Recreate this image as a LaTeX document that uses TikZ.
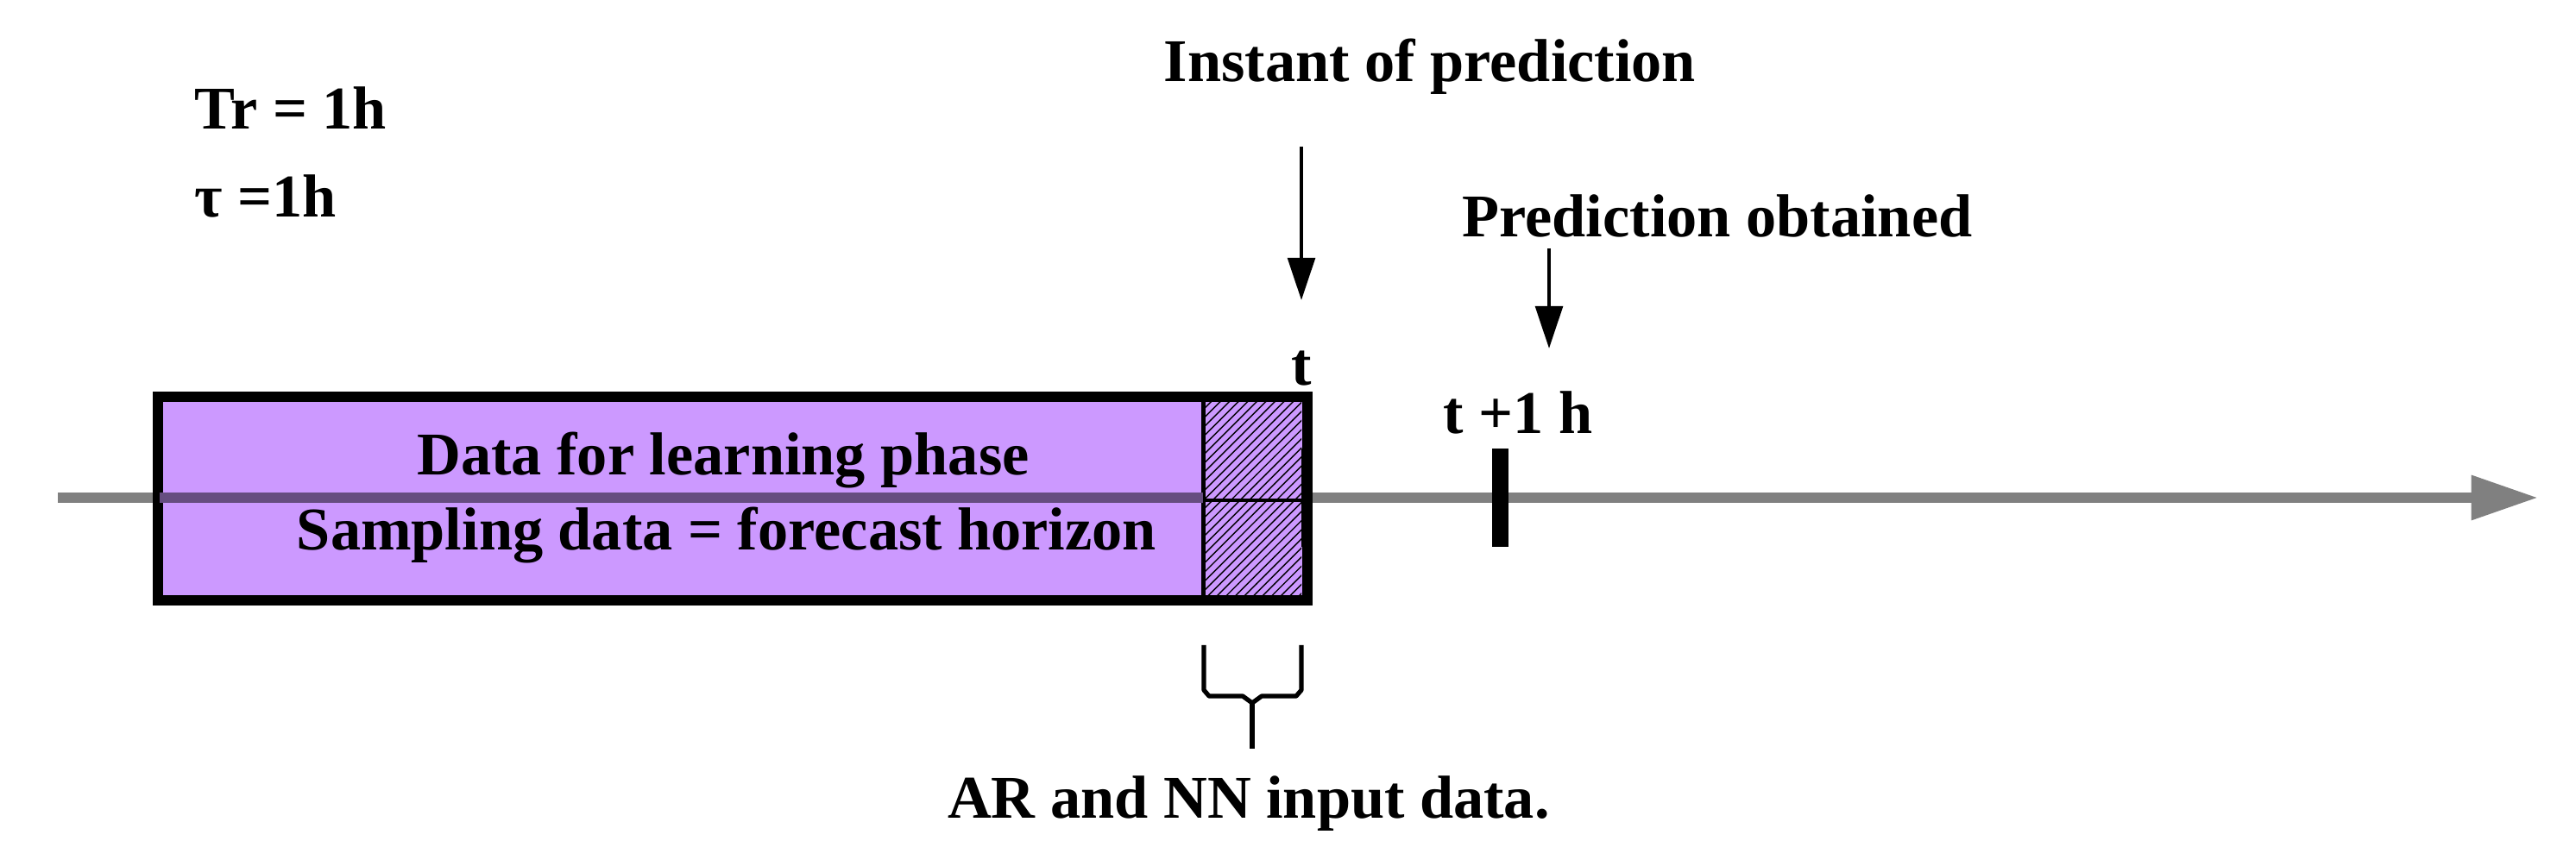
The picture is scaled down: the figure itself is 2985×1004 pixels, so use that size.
\documentclass[tikz,border=0pt]{standalone}
\usepackage{fontspec}
\setmainfont{Liberation Serif}
\usetikzlibrary{patterns,arrows.meta}
\definecolor{lav}{HTML}{CC99FF}
\definecolor{axisg}{HTML}{808080}
\definecolor{axisp}{HTML}{664D80}
\begin{document}
\begin{tikzpicture}[x=0.01cm,y=-0.01cm,
  lbl/.style={font=\bfseries\fontsize{20}{24}\selectfont, inner sep=0pt},
  arr/.style={line width=1.2pt,-{Triangle[length=14pt,width=9pt]}}]
\useasboundingbox (0,0) rectangle (2985,1004);
% axis
\coordinate (a0) at (67,577);
\coordinate (a1) at (2941,577);
\draw[axisg,line width=0.12cm,-{Triangle[length=22pt,width=14pt]}] (a0) -- (a1);
% box
\node[draw=black,line width=0.08cm,fill=lav,minimum width=13.27cm,minimum height=2.32cm,anchor=north west,inner sep=0pt] (box) at (181,458) {};
\path[pattern=north east lines] (1394,458) rectangle (1508,690);
\draw[line width=0.05cm] (1394,458) -- (1394,690);
\draw[axisp,line width=0.12cm] (box.west |- 0,577) -- (1394,577);
\draw[line width=0.04cm] (1394,580) -- (1508,580);
\draw[line width=0.08cm] (box.south west) rectangle (box.north east);
% ticks
\node[fill=black,minimum width=0.1cm,minimum height=1.13cm,inner sep=0pt] (tk0) at (1513,577) {};
\node[fill=black,minimum width=0.19cm,minimum height=1.13cm,inner sep=0pt] (tk1) at (1738,577) {};
% texts
\node[lbl] (d1) at (838,534) {Data for learning phase};
\node[lbl] (d2) at (842,621) {Sampling data = forecast horizon};
\node[lbl,anchor=west] (tr) at (225,125) {Tr = 1h};
\node[lbl,anchor=west] (tau) at (225,227) {τ =1h};
\node[lbl] (ip) at (1657,77) {Instant of prediction};
\node[lbl] (po) at (1990,250) {Prediction obtained};
\node[lbl] (t) at (1508,427) {t};
\node[lbl] (t1) at (1759,478) {t +1 h};
\node[lbl] (ar) at (1447,932) {AR and NN input data.};
% arrows
\coordinate (s1) at (1508,170);
\coordinate (e1) at (1508,348);
\draw[arr] (s1) -- (e1);
\coordinate (s2) at (1795,288);
\coordinate (e2) at (1795,404);
\draw[arr] (s2) -- (e2);
% brace
\coordinate (bl) at (1395,748);
\coordinate (br) at (1508,748);
\coordinate (bt) at (1451,868);
\draw[line width=1.5pt,line join=round] (bl) -- (1395,800) -- (1401,807) -- (1440,807) -- (1451,815) -- (1462,807) -- (1502,807) -- (1508,800) -- (br);
\draw[line width=1.5pt] (1451,815) -- (bt);
\end{tikzpicture}
\end{document}
